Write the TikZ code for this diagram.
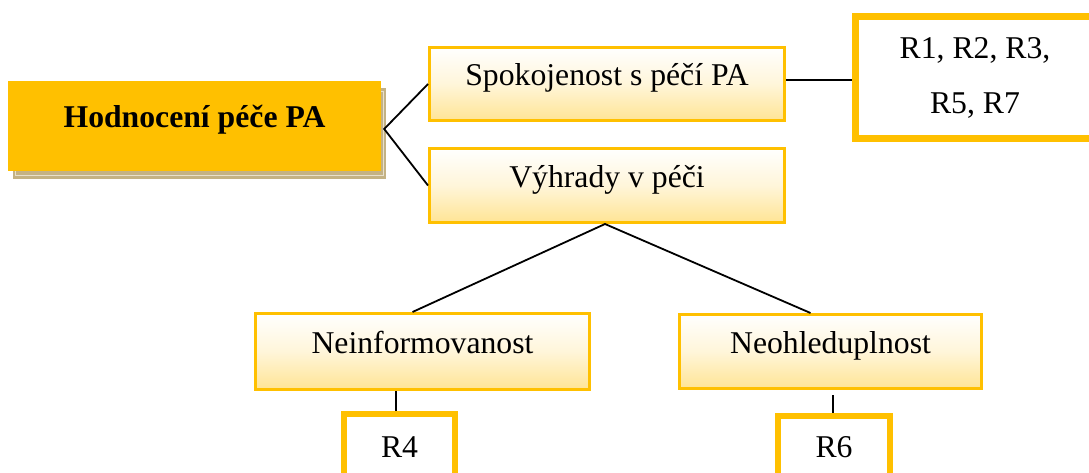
\documentclass[tikz,border=0pt]{standalone}
\usepackage{fontspec}
\setmainfont{Liberation Serif}
\usetikzlibrary{backgrounds,calc}
\definecolor{gold}{RGB}{255,192,0}
\definecolor{paleGold}{RGB}{255,228,148}
\definecolor{shadowTan}{RGB}{196,178,132}
\definecolor{shadowEdge}{RGB}{232,224,204}

\begin{document}
\begin{tikzpicture}[x=1pt,y=-1pt,
  every node/.style={inner sep=0pt, font=\fontsize{31.7}{38}\selectfont},
  headbox/.style={fill=gold, minimum width=373pt, minimum height=90pt,
    text height=12pt, text depth=8pt, font=\fontsize{31.7}{38}\selectfont\bfseries},
  topicbox/.style={draw=gold, line width=2.6pt, top color=white, bottom color=paleGold,
    middle color=paleGold!35!white, text height=12pt, text depth=8pt},
  refbox/.style={draw=gold, line width=6.5pt, fill=white},
  link/.style={line width=1.8pt, black}]

\useasboundingbox (0,0) rectangle (1089,473);
\clip (0,0) rectangle (1089,473);

% root and its two topics
\node[headbox] (head) at (194.5,126) {Hodnocení péče PA};
\node[topicbox, minimum width=355.4pt, minimum height=73.4pt] (spok) at (607,84) {Spokojenost s péčí PA};
\node[topicbox, minimum width=355.4pt, minimum height=74.4pt] (vyhr) at (607,185.5) {Výhrady v péči};

% sub-topics of the objections
\node[topicbox, minimum width=334.4pt, minimum height=76.4pt] (neinf) at (422.5,351.5) {Neinformovanost};
\node[topicbox, minimum width=302.4pt, minimum height=74.4pt] (neohl) at (830.5,351.5) {Neohleduplnost};

% respondent boxes
\node[refbox, line width=7pt, minimum width=239pt, minimum height=122pt, align=center,
  font=\fontsize{31.7}{55}\selectfont] (rA) at (975,77.5) {R1, R2, R3,\\R5, R7};
\node[refbox, minimum width=111pt, minimum height=66pt] (rB) at (399.5,447) {R4};
\node[refbox, minimum width=112pt, minimum height=62.6pt] (rC) at (834,447.3) {R6};

% drop shadow of the root box
\begin{scope}[on background layer]
  \fill[shadowTan] ([xshift=5pt,yshift=-7.5pt]head.south west) rectangle ([xshift=5pt,yshift=-7.5pt]head.north east);
  \draw[shadowEdge, line width=0.8pt] ([xshift=8pt,yshift=-4.5pt]head.south west) rectangle ([xshift=2pt,yshift=-10.5pt]head.north east);
\end{scope}

% connectors
\path (head.east) ++(3,3) coordinate (hub);
\draw[link] (spok.west) -- (hub) -- (vyhr.west);

\path (spok.east) ++(0,-4) coordinate (sA);
\draw[link] (sA) -- (sA -| rA.west);

\path (vyhr.south) ++(-2,0) coordinate (vFoot);
\path (neinf.north) ++(-10,0) coordinate (nTop);
\path (neohl.north) ++(-20,0) coordinate (oTop);
\draw[link] (nTop) -- (vFoot) -- (oTop);

\path (rB.north) ++(-3.5,0) coordinate (r4top);
\draw[link] (r4top) -- (r4top |- neinf.south);

\path (rC.north) ++(-1,0) coordinate (r6top);
\draw[link, shorten >=5pt] (r6top) -- (r6top |- neohl.south);
\end{tikzpicture}
\end{document}
